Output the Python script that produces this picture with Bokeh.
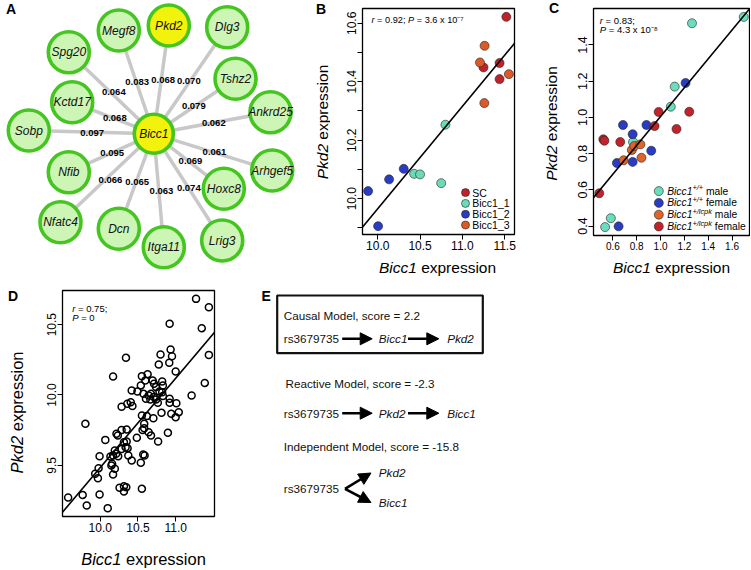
import math
import numpy as np
from bokeh.plotting import figure
from bokeh.layouts import row, column
from bokeh.models import (Range1d, Label, Slope, Arrow, NormalHead, FixedTicker,
                          PrintfTickFormatter, ColumnDataSource)
from bokeh.core.properties import value
from bokeh.embed import file_html
from bokeh.resources import INLINE

FONT = "Liberation Sans"

# ------------------------------------------------------------------ data
# Panel A: co-expression network around Bicc1
hub = "Bicc1"
genes = ["Pkd2", "Megf8", "Dlg3", "Spg20", "Tshz2", "Kctd17", "Ankrd25", "Sobp",
         "Arhgef5", "Nfib", "Hoxc8", "Nfatc4", "Dcn", "Itga11", "Lrig3"]
weights = [0.068, 0.083, 0.070, 0.064, 0.079, 0.068, 0.062, 0.097,
           0.061, 0.095, 0.069, 0.066, 0.065, 0.063, 0.074]
highlighted = ["Bicc1", "Pkd2"]

# Panel B
b_groups = ["SC", "Bicc1_1", "Bicc1_2", "Bicc1_3"]
b_bicc1 = [[11.25, 11.44, 11.44, 11.52],
           [10.43, 10.50, 10.75, 10.80],
           [9.886, 10.004, 10.134, 10.307],
           [11.263, 11.208, 11.26, 11.55]]
b_pkd2 = [[10.449, 10.464, 10.409, 10.622],
          [10.085, 10.083, 10.053, 10.253],
          [10.026, 9.906, 10.066, 10.102],
          [10.523, 10.466, 10.327, 10.426]]
b_stats = ("0.92", "3.6 x 10\u207b\u2077")
b_xticks = [10.0, 10.5, 11.0, 11.5]
b_yticks = [10.0, 10.2, 10.4, 10.6]
b_yminor = [9.9, 10.1, 10.3, 10.5]

# Panel C
c_groups = [("+/+", "male"), ("+/+", "female"), ("+/lcpk", "male"), ("+/lcpk", "female")]
c_bicc1 = [[1.698, 1.264, 1.119, 1.086, 0.769, 0.583, 0.535],
           [1.210, 0.685, 0.882, 0.766, 0.634, 0.766, 0.922, 0.648],
           [0.690, 0.759, 0.780, 0.831, 0.840],
           [0.486, 0.520, 0.529, 0.662, 0.984, 0.950, 1.134, 1.241]]
c_pkd2 = [[1.555, 1.520, 1.170, 1.059, 0.864, 0.443, 0.394],
          [1.190, 0.958, 0.958, 0.907, 0.748, 0.754, 0.816, 0.398],
          [0.763, 0.820, 0.842, 0.851, 0.777],
          [0.581, 0.879, 0.871, 0.864, 1.030, 0.952, 0.936, 1.031]]
c_stats = ("0.83", "4.3 x 10\u207b\u2078")
c_xticks = [0.6, 0.8, 1.0, 1.2, 1.4, 1.6]
c_yticks = [0.4, 0.6, 0.8, 1.0, 1.2, 1.4]

# Panel D
d_bicc1 = [11.270, 11.440, 10.920, 11.346, 11.440, 10.799, 10.933, 10.951, 10.776, 10.915,
           10.341, 11.000, 10.170, 10.552, 10.628, 10.597, 10.695, 10.821, 10.713, 10.740,
           10.830, 11.386, 11.211, 10.417, 10.493, 10.574, 10.642, 10.673, 10.740, 10.830,
           10.606, 10.664, 10.709, 10.763, 10.920, 11.009, 10.920, 10.404, 10.359, 10.283,
           10.812, 10.942, 11.041, 11.000, 10.704, 10.552, 10.619, 9.803, 10.583, 10.350,
           10.283, 10.215, 10.233, 10.583, 10.642, 10.673, 10.767, 10.897, 10.067, 10.485,
           10.350, 10.336, 10.283, 10.363, 10.193, 10.211, 10.170, 10.135, 10.372, 9.991,
           10.238, 10.417, 10.157, 10.148, 10.193, 9.978, 10.538, 10.588, 10.570, 9.933,
           9.969, 10.170, 10.256, 10.314, 10.345, 10.314, 10.552, 9.991, 9.767, 9.574,
           9.821, 10.099, 10.538, 10.785, 10.821, 10.426, 10.314, 10.561]
d_pkd2 = [10.683, 10.624, 10.506, 10.475, 10.285, 10.288, 10.323, 10.276, 10.217, 10.229,
          10.264, 10.167, 10.131, 10.134, 10.148, 10.103, 10.103, 10.096, 10.079, 10.056,
          10.068, 10.086, 9.996, 10.032, 10.025, 10.008, 9.996, 10.008, 9.968, 9.992,
          9.973, 9.968, 9.985, 9.944, 9.973, 9.942, 9.944, 9.949, 9.937, 9.916,
          9.873, 9.866, 9.878, 9.842, 9.835, 9.854, 9.850, 9.795, 9.795, 9.755,
          9.752, 9.724, 9.712, 9.764, 9.736, 9.712, 9.670, 9.731, 9.681, 9.696,
          9.670, 9.629, 9.617, 9.622, 9.606, 9.582, 9.570, 9.563, 9.570, 9.565,
          9.565, 9.534, 9.511, 9.499, 9.475, 9.480, 9.518, 9.570, 9.577, 9.440,
          9.409, 9.435, 9.340, 9.352, 9.345, 9.314, 9.333, 9.293, 9.290, 9.271,
          9.215, 9.196, 10.068, 10.025, 10.020, 9.921, 9.665, 9.752]
d_stats = ("0.75", "0")
d_xticks = [10.0, 10.5, 11.0]
d_yticks = [9.5, 10.0, 10.5]

# Panel E
snp = "rs3679735"
e_models = ["Causal", "Reactive", "Independent"]
e_scores = ["2.2", "-2.3", "-15.8"]

# ------------------------------------------------------------------ layout / style
a_pos = {"Bicc1": (153.3, 133.3), "Pkd2": (168.3, 25.0), "Megf8": (118.3, 30.0),
         "Dlg3": (226.7, 26.7), "Spg20": (68.3, 51.7), "Tshz2": (235.0, 78.3),
         "Kctd17": (71.7, 101.7), "Ankrd25": (270.0, 111.7), "Sobp": (28.3, 130.0),
         "Arhgef5": (271.7, 170.0), "Nfib": (68.3, 171.7), "Hoxc8": (223.3, 188.3),
         "Nfatc4": (60.0, 221.7), "Dcn": (118.3, 228.3), "Itga11": (163.3, 246.7),
         "Lrig3": (221.7, 240.0)}
a_lab = {"Pkd2": (162.7, 79.3), "Megf8": (136.7, 81.7), "Dlg3": (188.3, 80.7),
         "Spg20": (113.3, 91.7), "Tshz2": (193.3, 105.5), "Kctd17": (114.3, 117.7),
         "Ankrd25": (213.3, 122.2), "Sobp": (91.7, 132.3), "Arhgef5": (214.0, 151.4),
         "Nfib": (111.7, 152.7), "Hoxc8": (190.0, 160.8), "Nfatc4": (110.0, 179.0),
         "Dcn": (136.7, 181.0), "Itga11": (161.0, 190.7), "Lrig3": (188.3, 187.3)}

B_COLORS = ["#C0222A", "#6ADBB8", "#2B3CC4", "#DD5A26"]
C_COLORS = ["#6ADDBD", "#2B3CC4", "#E0632A", "#C4222A"]

W = {' ': 278, '.': 278, ',': 278, ';': 278, '=': 584, '-': 333, '_': 556, '/': 278,
     '+': 584, '\u207b': 333, '\u2077': 333, '\u2078': 333,
     'a': 556, 'b': 556, 'c': 500, 'd': 556, 'e': 556, 'f': 278, 'g': 556, 'h': 556,
     'i': 222, 'j': 222, 'k': 500, 'l': 222, 'm': 833, 'n': 556, 'o': 556, 'p': 556,
     'q': 556, 'r': 333, 's': 500, 't': 278, 'u': 556, 'v': 500, 'w': 722, 'x': 500,
     'y': 500, 'z': 500, 'B': 667, 'P': 667, 'C': 722, 'M': 833, 'R': 722, 'I': 278}


def tw(s, size):
    return sum(W.get(ch, 556) for ch in s) * size / 1000.0


def _items(segs, size):
    out = []
    for s in segs:
        sz = size * (s[2] if len(s) > 2 else 1.0)
        rz = s[3] if len(s) > 3 else 0.0
        out.append((s[0], s[1], sz, rz))
    return out


def seg_label(p, x, y, segs, size, dx=0.0, dy=0.0):
    """left-aligned multi-style text inside a plot frame (screen offsets)"""
    pos = 0.0
    for t, st, sz, rz in _items(segs, size):
        body = t.lstrip(" ")
        pos += tw(t[:len(t) - len(body)], sz)
        if body:
            p.add_layout(Label(x=x, y=y, x_offset=dx + pos, y_offset=dy + rz, text=body,
                               text_font=FONT, text_font_style=st,
                               text_font_size=f"{sz:.2f}px", text_align="left",
                               text_baseline="middle", text_color="black"))
        pos += tw(body, sz)


def seg_text(p, x, y, segs, size, anchor="left", vertical=False):
    """multi-style text on a canvas with y pointing down"""
    items = _items(segs, size)
    total = sum(tw(t, sz) for t, st, sz, rz in items)
    pos = {"left": 0.0, "center": -total / 2.0}[anchor]
    for t, st, sz, rz in items:
        body = t.lstrip(" ")
        pos += tw(t[:len(t) - len(body)], sz)
        if body:
            if vertical:
                px, py, ang = x - rz, y - pos, math.pi / 2
            else:
                px, py, ang = x + pos, y - rz, 0.0
            p.text(x=[px], y=[py], text=[body], angle=ang, text_font=value(FONT),
                   text_font_style=st, text_font_size=f"{sz:.2f}px", text_align="left",
                   text_baseline="middle", text_color="black")
        pos += tw(body, sz)


def canvas(x0, x1, y0, y1, left=0, right=0):
    """blank drawing area whose data units are page pixels (y down);
    left/right borders let it share the frame alignment of a plot above it"""
    p = figure(frame_width=int(x1 - x0), frame_height=int(y1 - y0),
               x_range=Range1d(x0, x1), y_range=Range1d(y1, y0), output_backend="svg",
               toolbar_location=None, tools="", x_axis_type=None, y_axis_type=None,
               min_border=0, min_border_left=left, min_border_right=right)
    p.grid.visible = False
    p.outline_line_color = None
    p.background_fill_color = "white"
    p.border_fill_color = "white"
    return p


def letter(p, x, y, txt):
    p.text(x=[x], y=[y], text=[txt], text_font=value(FONT), text_font_style="bold",
           text_font_size="14px", text_align="left", text_baseline="middle",
           text_color="black")


def rng(vals):
    lo, hi = min(vals), max(vals)
    d = (hi - lo) * 0.04
    return Range1d(lo - d, hi + d)


def axes_fig(fw, fh, borders, xr, yr):
    l, r, t, b = borders
    p = figure(frame_width=fw, frame_height=fh, min_border_left=l, min_border_right=r,
               min_border_top=t, min_border_bottom=b, x_range=xr, y_range=yr,
               output_backend="svg", toolbar_location=None, tools="")
    p.grid.visible = False
    p.background_fill_color = "white"
    p.border_fill_color = "white"
    p.outline_line_color = "black"
    p.outline_line_width = 1.3
    for ax in (p.xaxis[0], p.yaxis[0]):
        ax.axis_line_color = None
        ax.major_tick_line_color = "black"
        ax.major_tick_line_width = 1
        ax.major_tick_out = 5
        ax.major_tick_in = 0
        ax.minor_tick_line_color = None
        ax.major_label_text_font = FONT
        ax.major_label_text_color = "black"
        ax.major_label_standoff = 1
        ax.formatter = PrintfTickFormatter(format="%.1f")
    p.yaxis[0].major_label_orientation = "vertical"
    return p


TITLE = [("Bicc1", "italic"), (" expression", "normal")]
YTITLE = [("Pkd2", "italic"), (" expression", "normal")]

# ------------------------------------------------------------------ Panel A (+ B y title)
pa = canvas(0, 330, 0, 280)
hx, hy = a_pos[hub]
pa.segment(x0=[hx] * len(genes), y0=[hy] * len(genes),
           x1=[a_pos[g][0] for g in genes], y1=[a_pos[g][1] for g in genes],
           line_color="#C8C8C8", line_width=3.5)
nodes = genes + [hub]
node_src = ColumnDataSource(dict(
    x=[a_pos[g][0] for g in nodes], y=[a_pos[g][1] for g in nodes], name=nodes,
    fill=["#F2F20C" if g in highlighted else "#CDF5B6" for g in nodes],
    r=[19.5 if g == hub else 20.5 for g in nodes]))
pa.circle(x="x", y="y", radius="r", source=node_src, fill_color="fill",
          line_color="#45C520", line_width=3.6)
pa.text(x="x", y="y", text="name", source=node_src, text_font=value(FONT),
        text_font_style="italic", text_font_size="12px", text_align="center",
        text_baseline="middle", text_color="#111111")
pa.text(x=[a_lab[g][0] for g in genes], y=[a_lab[g][1] for g in genes],
        text=[f"{w:.3f}" for w in weights], text_font=value(FONT),
        text_font_style="bold", text_font_size="9.5px", text_align="center",
        text_baseline="middle", text_color="black")
letter(pa, 5.5, 8.5, "A")
letter(pa, 315.5, 8.5, "B")
seg_text(pa, 321.5, 121.5, YTITLE, 15.5, anchor="center", vertical=True)

# ------------------------------------------------------------------ Panel B
bx_all = [v for g in b_bicc1 for v in g]
by_all = [v for g in b_pkd2 for v in g]
bxr, byr = rng(bx_all), rng(by_all)
BFW, BFH = 152, 226
pb = axes_fig(BFW, BFH, (32, 2, 8, 24), bxr, byr)
pb.xaxis[0].ticker = FixedTicker(ticks=b_xticks)
pb.yaxis[0].ticker = FixedTicker(ticks=b_yticks, minor_ticks=b_yminor)
pb.yaxis[0].minor_tick_line_color = "black"
pb.yaxis[0].minor_tick_out = 5
pb.yaxis[0].minor_tick_in = 0
pb.xaxis[0].major_label_text_font_size = "12px"
pb.yaxis[0].major_label_text_font_size = "12px"
m, c = np.polyfit(bx_all, by_all, 1)
pb.add_layout(Slope(gradient=m, y_intercept=c, line_color="black", line_width=1.6))
for xs, ys, col in zip(b_bicc1, b_pkd2, B_COLORS):
    pb.scatter(xs, ys, size=9, fill_color=col, line_color="#222222", line_width=0.6)
for k, (name, col) in enumerate(zip(b_groups, B_COLORS)):
    dyb = 9.5 + 10.8 * (3 - k)
    lx = bxr.end - 49 / BFW * (bxr.end - bxr.start)
    ly = byr.start + dyb / BFH * (byr.end - byr.start)
    pb.scatter([lx], [ly], size=8, fill_color=col, line_color="#222222", line_width=0.6)
    seg_label(pb, bxr.end, byr.start, [(name, "normal")], 10.5, dx=-42.3, dy=dyb)
seg_label(pb, bxr.start, byr.end,
          [("r", "italic"), (f" = {b_stats[0]}; ", "normal"), ("P", "italic"),
           (f" = {b_stats[1]}", "normal")], 9.2, dx=9, dy=-11.7)
pbx = canvas(362, 514, 258, 280, left=32, right=2)
seg_text(pbx, 437, 266.5, TITLE, 15.5, anchor="center")

# ------------------------------------------------------------------ gap (C letter, C y title)
pgap = canvas(516, 566, 0, 280)
letter(pgap, 548.5, 7.5, "C")
seg_text(pgap, 550.5, 123, YTITLE, 15.5, anchor="center", vertical=True)

# ------------------------------------------------------------------ Panel C
cx_all = [v for g in c_bicc1 for v in g]
cy_all = [v for g in c_pkd2 for v in g]
cxr, cyr = rng(cx_all), rng(cy_all)
CFW, CFH = 156, 227
pc = axes_fig(CFW, CFH, (27, 1, 8, 24), cxr, cyr)
pc.xaxis[0].ticker = FixedTicker(ticks=c_xticks)
pc.yaxis[0].ticker = FixedTicker(ticks=c_yticks)
pc.xaxis[0].major_label_text_font_size = "10px"
pc.yaxis[0].major_label_text_font_size = "12.5px"
m, c = np.polyfit(cx_all, cy_all, 1)
pc.add_layout(Slope(gradient=m, y_intercept=c, line_color="black", line_width=1.6))
for xs, ys, col in zip(c_bicc1, c_pkd2, C_COLORS):
    pc.scatter(xs, ys, size=9, fill_color=col, line_color="#222222", line_width=0.6)
for k, ((geno, sex), col) in enumerate(zip(c_groups, C_COLORS)):
    dyc = 9.0 + 11.8 * (3 - k)
    lx = cxr.end - 90.7 / CFW * (cxr.end - cxr.start)
    ly = cyr.start + dyc / CFH * (cyr.end - cyr.start)
    pc.scatter([lx], [ly], size=9, fill_color=col, line_color="#222222", line_width=0.6)
    seg_label(pc, cxr.end, cyr.start,
              [("Bicc1", "italic"), (geno, "italic", 0.72, 3.5), (" " + sex, "normal")],
              10.3, dx=-82.3, dy=dyc)
seg_label(pc, cxr.start, cyr.end, [("r", "italic"), (f" = {c_stats[0]};", "normal")],
          9.5, dx=6.3, dy=-11.7)
seg_label(pc, cxr.start, cyr.end, [("P", "italic"), (f" = {c_stats[1]}", "normal")],
          9.5, dx=6.3, dy=-21.0)
pcx = canvas(593, 749, 259, 280, left=27, right=1)
seg_text(pcx, 671, 267, TITLE, 15.5, anchor="center")

# ------------------------------------------------------------------ Panel D
pdy = canvas(0, 30, 280, 569)
letter(pdy, 7.5, 295, "D")
seg_text(pdy, 16, 412, YTITLE, 16.5, anchor="center", vertical=True)

dxr, dyr = rng(d_bicc1), rng(d_pkd2)
pd_ = axes_fig(152, 226, (32, 36, 10, 24), dxr, dyr)
pd_.xaxis[0].ticker = FixedTicker(ticks=d_xticks)
pd_.yaxis[0].ticker = FixedTicker(ticks=d_yticks)
pd_.xaxis[0].major_label_text_font_size = "12px"
pd_.yaxis[0].major_label_text_font_size = "12px"
m, c = np.polyfit(d_bicc1, d_pkd2, 1)
pd_.add_layout(Slope(gradient=m, y_intercept=c, line_color="black", line_width=1.6))
pd_.scatter(d_bicc1, d_pkd2, size=7, fill_color=None, line_color="black", line_width=1.5)
seg_label(pd_, dxr.start, dyr.end, [("r", "italic"), (f" = {d_stats[0]};", "normal")],
          9.5, dx=9.7, dy=-17.7)
seg_label(pd_, dxr.start, dyr.end, [("P", "italic"), (f" = {d_stats[1]}", "normal")],
          9.5, dx=9.7, dy=-27.3)
pdx = canvas(62, 214, 540, 569, left=32, right=36)
seg_text(pdx, 143, 558, TITLE, 16.5, anchor="center")

# ------------------------------------------------------------------ Panel E
pe = canvas(250, 750, 280, 569)
e_title_y = [315.0, 383.3, 445.7]
e_title_x = [283.3, 285.0, 283.3]
pe.quad(left=[276.7], right=[482.3], top=[295.0], bottom=[352.7], fill_color=None,
        line_color="#111111", line_width=2.2)
pe.text(x=e_title_x, y=e_title_y,
        text=[f"{mname} Model, score = {s}" for mname, s in zip(e_models, e_scores)],
        text_font=value(FONT), text_font_size="11.7px", text_align="left",
        text_baseline="middle", text_color="#111111")
chain_y = [338.3, 412.7]
chains = [["Bicc1", "Pkd2"], ["Pkd2", "Bicc1"]]
pe.text(x=[283.3] * 3, y=chain_y + [488.3], text=[snp] * 3, text_font=value(FONT),
        text_font_size="11.7px", text_align="left", text_baseline="middle",
        text_color="#111111")
gx, gy, gt = [], [], []
for yy, ch in zip(chain_y, chains):
    gx += [378.3, 446.7]
    gy += [yy, yy]
    gt += ch
    for x0, x1 in [(341.7, 371.7), (407.5, 438.3)]:
        pe.add_layout(Arrow(end=NormalHead(size=12, fill_color="black", line_color="black"),
                            x_start=x0, y_start=yy, x_end=x1, y_end=yy,
                            line_color="black", line_width=2.6))
gx += [378.3, 378.3]
gy += [471.7, 501.7]
gt += ["Pkd2", "Bicc1"]
pe.text(x=gx, y=gy, text=gt, text_font=value(FONT), text_font_style="italic",
        text_font_size="11.7px", text_align="left", text_baseline="middle",
        text_color="#111111")
for ye in (472.5, 502.0):
    pe.add_layout(Arrow(end=NormalHead(size=12, fill_color="black", line_color="black"),
                        x_start=344.5, y_start=488.3, x_end=370.5, y_end=ye,
                        line_color="black", line_width=2.6))
letter(pe, 261.0, 295.0, "E")

layout = column(row(pa, column(pb, pbx), pgap, column(pc, pcx)),
                row(pdy, column(pd_, pdx), pe))
open("out.html", "w").write(file_html(layout, INLINE))
